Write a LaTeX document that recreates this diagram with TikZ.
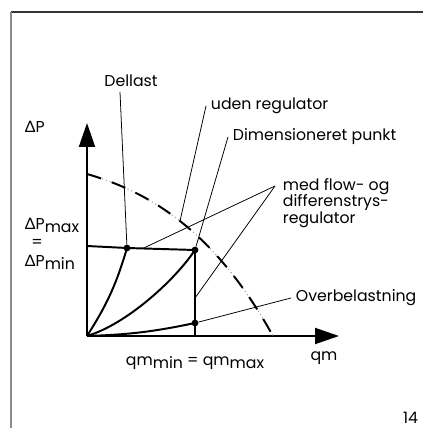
\documentclass[tikz,border=0pt]{standalone}
\usepackage{fontspec}
\setmainfont{Poppins}
\newfontfamily\graesk{Lato}
\usetikzlibrary{arrows.meta}
\newcommand{\nedre}[1]{\raisebox{-0.3ex}{#1}}
\newcommand{\dP}{{\graesk Δ}P}

\begin{document}
\begin{tikzpicture}[font=\fontsize{11.2}{12}\selectfont,
    akse/.style={line width=1.4pt,-{Triangle[length=6mm,width=4mm]}},
    kurve/.style={line width=1.4pt},
    leder/.style={line width=0.55pt},
    punkt/.style={circle,fill,inner sep=0pt,minimum size=1.7mm}]
    		\useasboundingbox (0,0) rectangle (10.575,10.7);
    		% ramme
    		\draw[line width=1.2pt,black!80] (0.275,10.4) -- (10.575,10.4);
    		\draw[line width=1.5pt,black!45] (0.275,10.4) -- (0.275,0);
    		% akser
    		\coordinate (O) at (2.175,2.3);
    		\draw[akse] (O) -- (2.175,7.625);
    		\draw[akse] (O) -- (8.475,2.3);
    		% punkter
    		\node[punkt] (dl) at (3.175,4.5) {};
    		\node[punkt] (dp) at (4.875,4.45) {};
    		\node[punkt] (ob) at (4.875,2.625) {};
    		\coordinate (fod) at (4.875,2.3);
    		\coordinate (pmax) at (2.175,4.55);
    		% pumpekurve
    		\draw[black!35,line width=0.8pt,dotted] (2.175,6.35) .. controls (3.675,5.915) and (5.325,5.0) .. (6.825,2.3);
    		\draw[kurve,dash pattern=on 10.5pt off 8pt] (2.175,6.35) .. controls (3.675,5.915) and (5.325,5.0) .. (6.825,2.3) coordinate[pos=0.5] (hit);
    		% anlaegskurver
    		\draw[kurve] (pmax) -- (dl.center) -- (dp.center) -- (fod);
    		\draw[kurve] (O) to[bend right=8] (dl.center);
    		\draw[kurve] (O) .. controls (3.175,2.6) and (4.375,3.7) .. (dp.center);
    		\draw[kurve] (O) to[bend right=5] (ob.center);
    		% tekster
    		\node (dellast) at (3.275,8.675) {Dellast};
    		\node[anchor=west] (uden) at (5.15,8.05) {uden regulator};
    		\node[anchor=west] (dim) at (5.7,7.275) {Dimensioneret punkt};
    		\node[anchor=west,align=left] (med) at (6.95,5.625) {med flow- og\\differenstrys-\\regulator};
    		\node[anchor=west] (over) at (7.275,3.25) {Overbelastning};
    		\node[anchor=base west] (dPlbl) at (0.5,7.375) {\dP};
    		\node[anchor=base west] (dPmax) at (0.5,4.95) {\dP\nedre{max}};
    		\node (lig) at (0.925,4.62) {=};
    		\node[anchor=base west] (dPmin) at (0.5,4.03) {\dP\nedre{min}};
    		\node[anchor=base] (qmlbl) at (4.875,1.55) {qm\nedre{min} = qm\nedre{max}};
    		\node[anchor=base] (qm) at (8.1,1.68) {qm};
    		\node[anchor=base west,inner sep=0pt] (nr) at (10.07,0.12) {14};
    		% henvisningslinjer
    		\coordinate (dlstart) at (3.0,8.4);
    		\coordinate (medstart) at (6.875,6.05);
    		\coordinate (medh) at (3.575,4.49);
    		\coordinate (medv) at (4.875,3.25);
    		\draw[leder] (dlstart) -- (dl);
    		\draw[leder] (uden.west) -- (hit);
    		\draw[leder] (dim.west) -- (dp);
    		\draw[leder] (medstart) -- (medh);
    		\draw[leder] (medstart) -- (medv);
    		\draw[leder] (over.west) -- (ob);
\end{tikzpicture}
\end{document}
